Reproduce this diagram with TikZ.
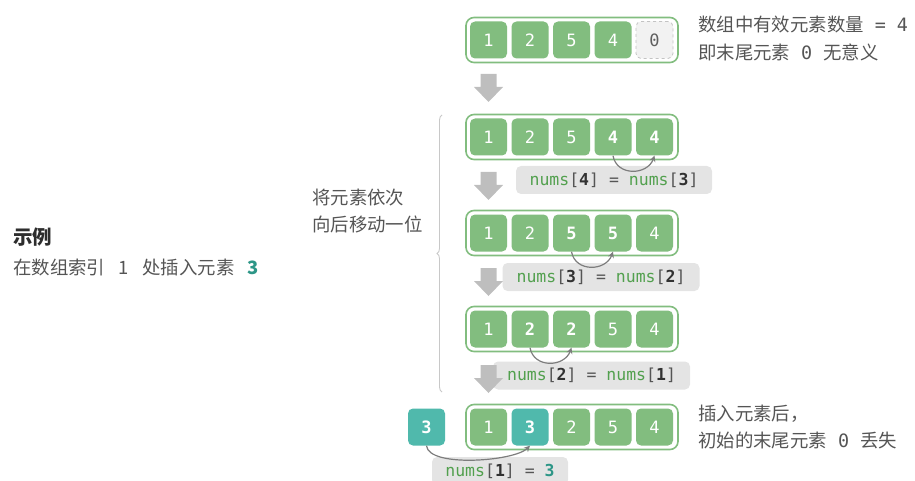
\documentclass[tikz,border=0pt]{standalone}
\usepackage{fontspec}
\setmainfont{Noto Sans CJK SC}
\newfontfamily\monofont{DejaVu Sans Mono}
\usetikzlibrary{decorations.pathreplacing,arrows.meta}
\definecolor{cellgreen}{RGB}{130,189,127}
\definecolor{tealc}{RGB}{80,185,172}
\definecolor{teald}{RGB}{45,150,135}
\definecolor{emptyfill}{RGB}{242,242,242}
\definecolor{emptydraw}{RGB}{195,195,195}
\definecolor{emptytext}{RGB}{95,95,95}
\definecolor{lblgray}{RGB}{228,228,228}
\definecolor{arrowgray}{RGB}{190,190,190}
\definecolor{curvegray}{RGB}{125,125,125}
\definecolor{textgray}{RGB}{85,85,85}
\definecolor{titlegray}{RGB}{45,45,45}
\definecolor{numgreen}{RGB}{82,160,78}
\definecolor{numdark}{RGB}{50,50,50}
\definecolor{bracegray}{RGB}{200,200,200}
\newcommand\dnarrow[2]{\fill[arrowgray] (#1-8,#2) -- (#1+8,#2) -- (#1+8,#2-13) -- (#1+14.5,#2-13) -- (#1,#2-28) -- (#1-14.5,#2-13) -- (#1-8,#2-13) -- cycle;}
\newcommand\nm{{\color{numgreen}nums}}
\newcommand\ix[1]{[{\bfseries\color{numdark}#1}]}
\newcommand\gp{\hspace{11pt}}
\newcommand\gq{\hspace{13.5pt}}
\begin{document}
\begin{tikzpicture}[x=1pt,y=1pt,
 cell/.style={rounded corners=5pt, minimum width=37pt, minimum height=37pt, inner sep=0pt, fill=cellgreen, text=white, font=\monofont\fontsize{17}{17}\selectfont},
 hcell/.style={cell, font=\monofont\bfseries\fontsize{17}{17}\selectfont},
 tcell/.style={hcell, fill=tealc},
 ecell/.style={cell, fill=emptyfill, draw=emptydraw, dashed, line width=0.8pt, text=emptytext},
 rowbox/.style={draw=cellgreen, line width=1.6pt, fill=white, rounded corners=8pt, minimum width=212pt, minimum height=45pt, inner sep=0pt},
 lbl/.style={fill=lblgray, rounded corners=5pt, minimum height=28pt, inner sep=0pt, font=\monofont\fontsize{16.5}{16.5}\selectfont, text=textgray},
 curv/.style={draw=curvegray, line width=1.2pt, -{Stealth[length=6pt,width=6pt]}},
 note/.style={anchor=west, text=textgray, font=\fontsize{18.4}{27.5}\selectfont, align=left, inner sep=0pt}
]
\useasboundingbox (0,0) rectangle (915,-481);

% row 1
\node[rowbox] (row1) at (572,-40) {};
\node[cell] (r1c1) at (488.5,-40) {1};
\node[cell] (r1c2) at (530,-40) {2};
\node[cell] (r1c3) at (571.5,-40) {5};
\node[cell] (r1c4) at (613,-40) {4};
\node[ecell] (r1c5) at (654.5,-40) {0};

% row 2
\node[rowbox] (row2) at (572,-137) {};
\node[cell] (r2c1) at (488.5,-137) {1};
\node[cell] (r2c2) at (530,-137) {2};
\node[cell] (r2c3) at (571.5,-137) {5};
\node[hcell] (r2c4) at (613,-137) {4};
\node[hcell] (r2c5) at (654.5,-137) {4};

% row 3
\node[rowbox] (row3) at (572,-233) {};
\node[cell] (r3c1) at (488.5,-233) {1};
\node[cell] (r3c2) at (530,-233) {2};
\node[hcell] (r3c3) at (571.5,-233) {5};
\node[hcell] (r3c4) at (613,-233) {5};
\node[cell] (r3c5) at (654.5,-233) {4};

% row 4
\node[rowbox] (row4) at (572,-329) {};
\node[cell] (r4c1) at (488.5,-329) {1};
\node[hcell] (r4c2) at (530,-329) {2};
\node[hcell] (r4c3) at (571.5,-329) {2};
\node[cell] (r4c4) at (613,-329) {5};
\node[cell] (r4c5) at (654.5,-329) {4};

% row 5
\node[rowbox] (row5) at (572,-427) {};
\node[cell] (r5c1) at (488.5,-427) {1};
\node[tcell] (r5c2) at (530,-427) {3};
\node[cell] (r5c3) at (571.5,-427) {2};
\node[cell] (r5c4) at (613,-427) {5};
\node[cell] (r5c5) at (654.5,-427) {4};
\node[tcell] (newv) at (426.5,-427) {3};

% labels
\node[lbl, minimum width=196pt] (l2) at (614,-180) {\nm\ix{4} = \nm\ix{3}};
\node[lbl, minimum width=197pt] (l3) at (601,-277) {\nm\ix{3} = \nm\ix{2}};
\node[lbl, minimum width=197pt] (l4) at (591.5,-375.5) {\nm\ix{2} = \nm\ix{1}};
\node[lbl, minimum width=136pt] (l5) at (500,-471) {\nm\ix{1} = {\bfseries\color{teald}3}};

% down arrows
\dnarrow{488.5}{-74}
\dnarrow{488.5}{-172}
\dnarrow{488.5}{-268}
\dnarrow{488.5}{-365}

% curved arrows
\draw[curv] (r2c4.south) to[out=-80,in=-110,looseness=1.3] (r2c5.south);
\draw[curv] (r3c3.south) to[out=-80,in=-110,looseness=1.3] (r3c4.south);
\draw[curv] (r4c2.south) to[out=-80,in=-110,looseness=1.3] (r4c3.south);
\draw[curv] (newv.south) to[out=-85,in=-135,looseness=0.55] (r5c2.south);

% brace
\draw[bracegray, line width=0.9pt, decorate, decoration={brace, amplitude=5pt}] (442,-392) -- (442,-115);

% texts
\node[note] (move) at (312,-211) {将元素依次\\向后移动一位};
\node[anchor=west, inner sep=0pt, text=titlegray, font=\bfseries\fontsize{19.5}{19.5}\selectfont] (title) at (13,-237) {示例};
\node[note] (desc) at (13,-268) {在数组索引\gq 1\gq 处插入元素\gq{\bfseries\color{teald}3}};
\node[note] (top) at (698,-38.5) {数组中有效元素数量\gp{\monofont=}\gp{\monofont 4}\\即末尾元素\gp{\monofont 0}\gp 无意义};
\node[note] (bot) at (698,-427) {插入元素后，\\初始的末尾元素\gp{\monofont 0}\gp 丢失};
\end{tikzpicture}
\end{document}
